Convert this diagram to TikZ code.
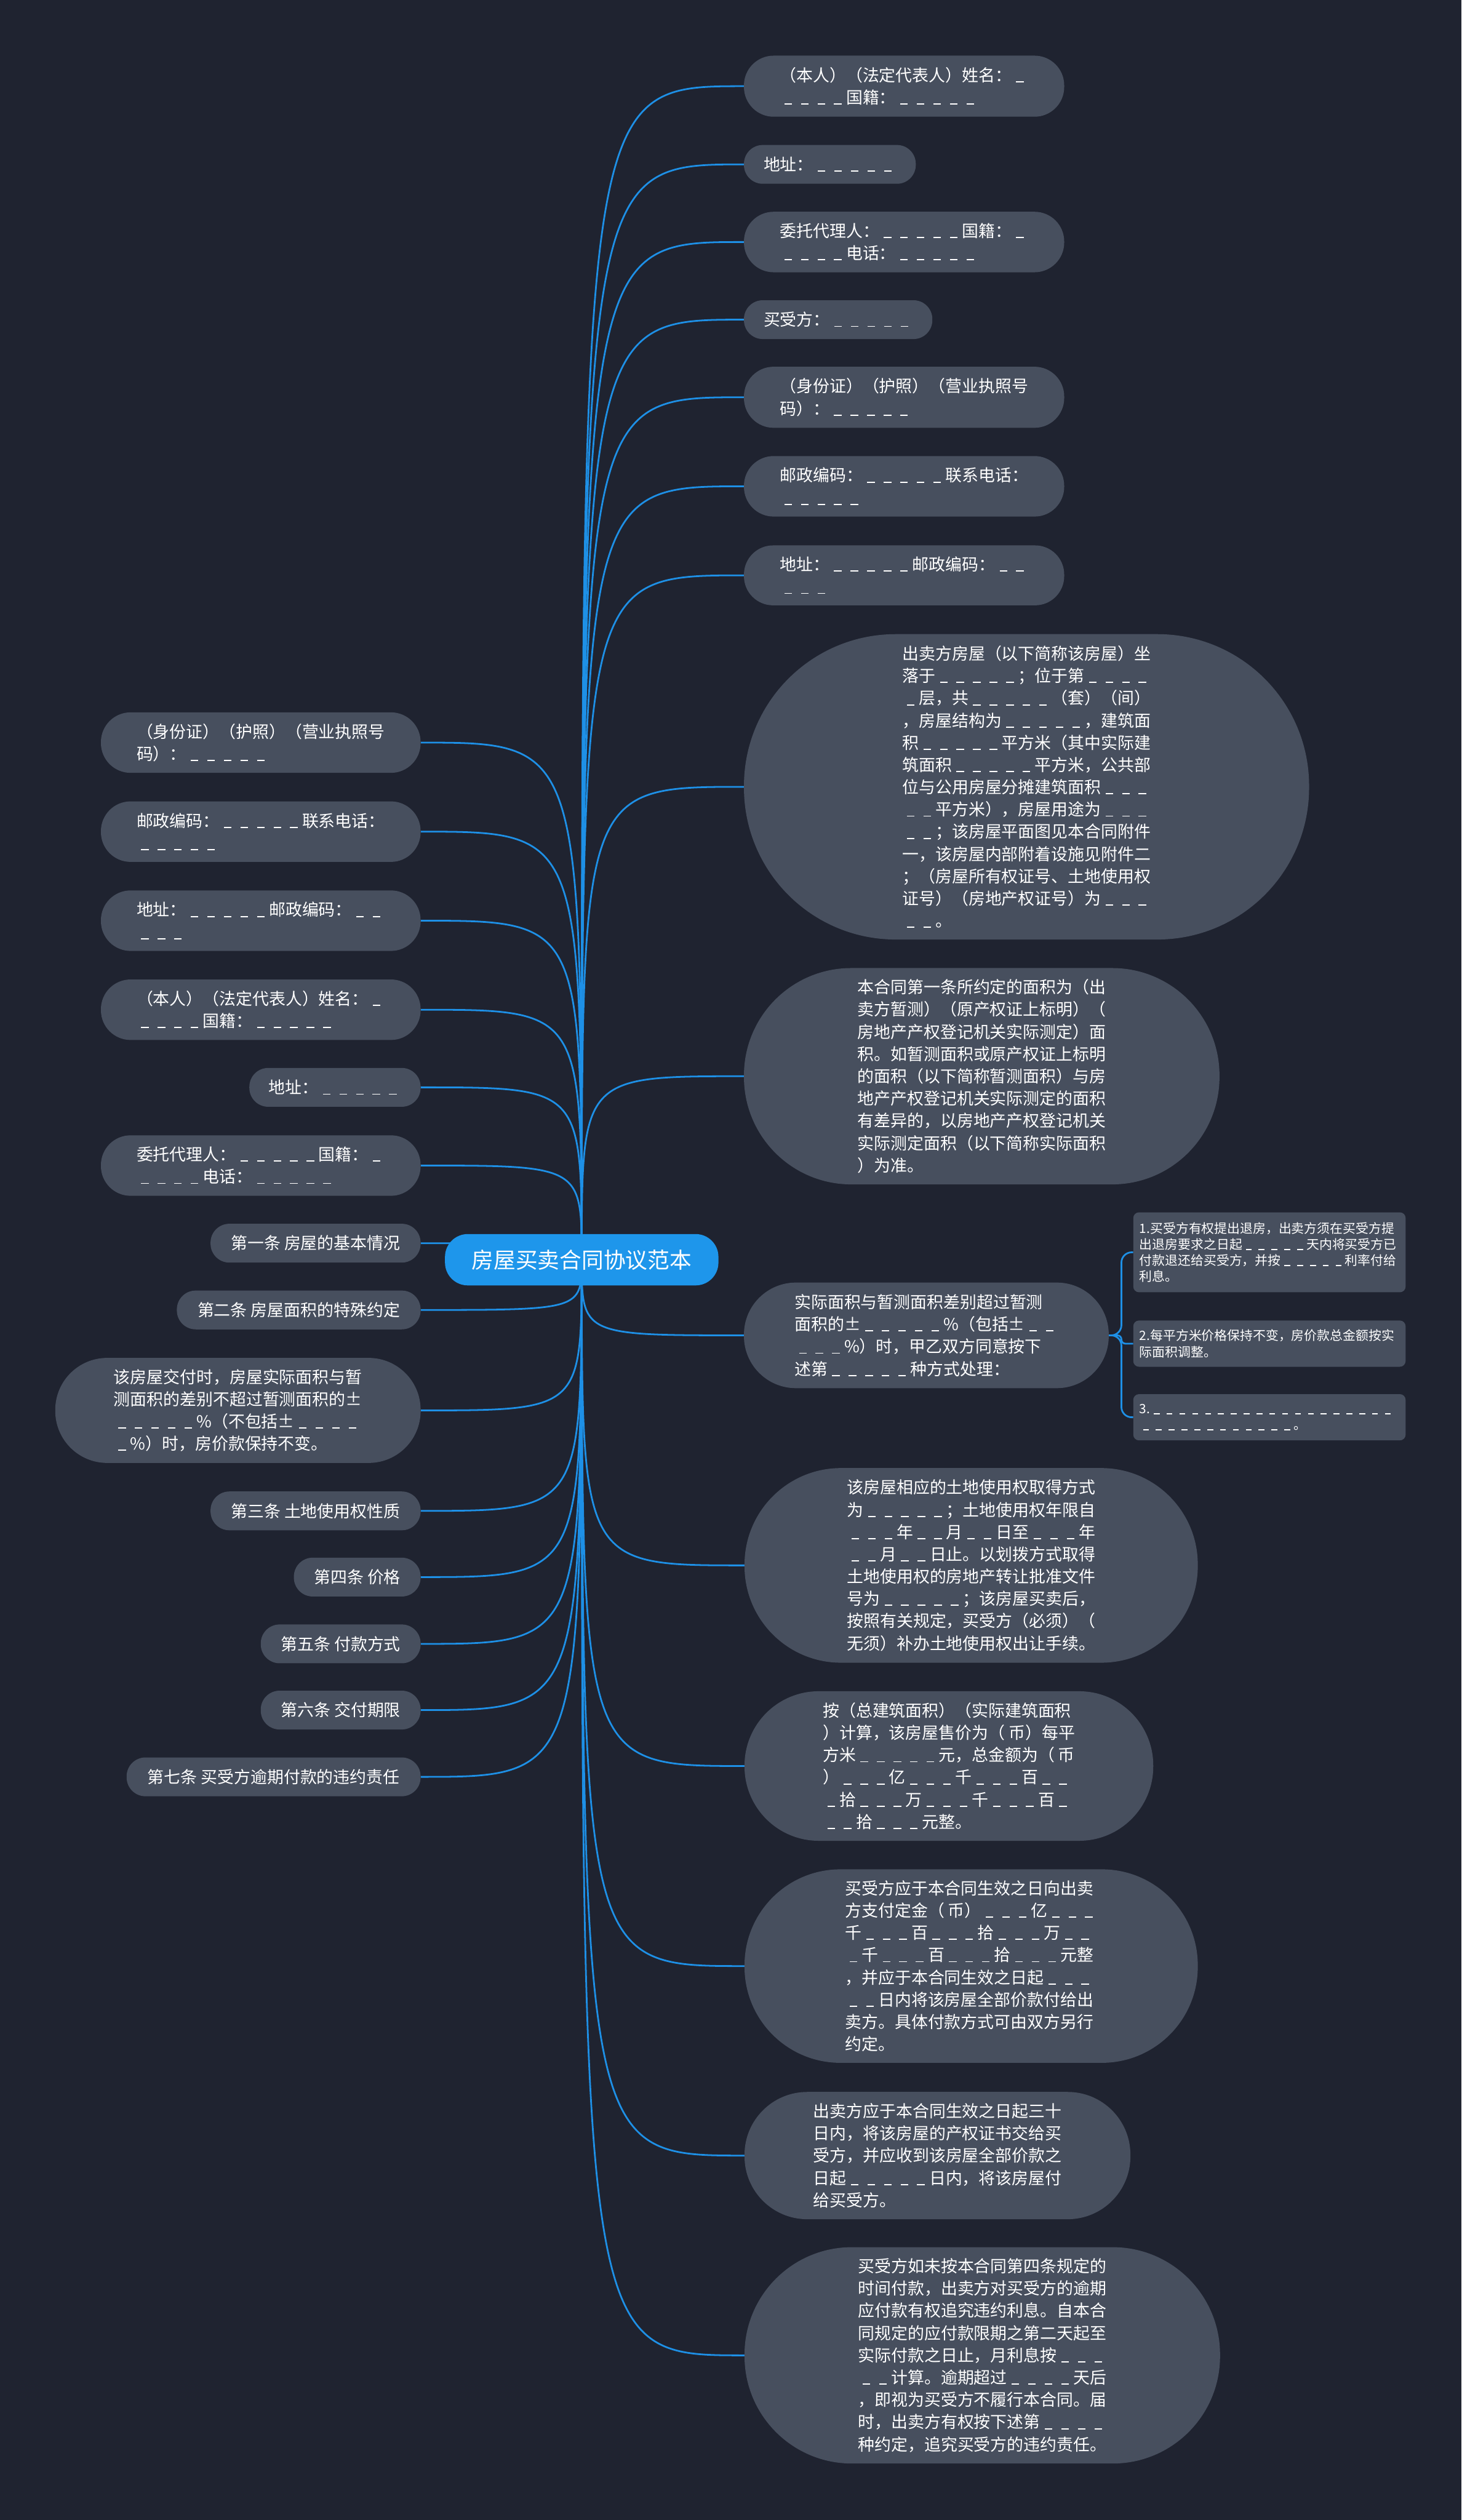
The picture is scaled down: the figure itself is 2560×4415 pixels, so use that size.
\documentclass[tikz,border=0pt]{standalone}
\usepackage{fontspec}
\setmainfont{Noto Sans CJK SC}
\definecolor{bgc}{RGB}{31,35,48}
\definecolor{nodec}{RGB}{71,79,94}
\definecolor{bluec}{RGB}{30,150,235}
\definecolor{linec}{RGB}{30,144,230}
\newcommand\blkone{\makebox[1em]{\rule[-0.06em]{0.46em}{0.07em}}}
\newcommand\blk[1]{\ifcase#1\or\blkone\or\blkone\blkone\or\blkone\blkone\blkone\or\blkone\blkone\blkone\blkone\or\blkone\blkone\blkone\blkone\blkone\fi}
\pgfdeclarelayer{bgl}
\pgfdeclarelayer{edl}
\pgfsetlayers{bgl,edl,main}
\tikzset{
  box/.style={fill=nodec, text=white, inner sep=0pt, align=left, font=\fontsize{29}{39}\selectfont},
  subbox/.style={fill=nodec, text=white, inner xsep=11pt, inner ysep=0pt, align=left, text width=455pt, rounded corners=10pt, font=\fontsize{22.5}{28.3}\selectfont},
  rootbox/.style={fill=bluec, text=white, inner sep=0pt, rounded corners=40pt, font=\fontsize{38.5}{46}\selectfont},
  edge/.style={draw=linec, line width=3pt},
}
\begin{document}
\begin{tikzpicture}[x=1pt,y=-1pt]
\begin{pgfonlayer}{bgl}
\fill[bgc] (0,0) rectangle (2560,4415);
\end{pgfonlayer}
\useasboundingbox (0,0) rectangle (2560,4415);

% root
\node[rootbox, minimum width=479, minimum height=90] (C) at (1019,2207) {房屋买卖合同协议范本};

% right column
\node[box, anchor=west, minimum width=561, minimum height=107, rounded corners=52] (R1) at (1303,151) {（本人）（法定代表人）姓名：\blk{1}\\\blk{4}国籍：\blk{5}};
\node[box, anchor=west, minimum width=301, minimum height=68, rounded corners=33] (R2) at (1303,288) {地址：\blk{5}};
\node[box, anchor=west, minimum width=561, minimum height=106, rounded corners=52] (R3) at (1303,424) {委托代理人：\blk{5}国籍：\blk{1}\\\blk{4}电话：\blk{5}};
\node[box, anchor=west, minimum width=330, minimum height=68, rounded corners=33] (R4) at (1303,560) {买受方：\blk{5}};
\node[box, anchor=west, minimum width=561, minimum height=107, rounded corners=52] (R5) at (1303,696) {（身份证）（护照）（营业执照号\\码）：\blk{5}};
\node[box, anchor=west, minimum width=561, minimum height=106, rounded corners=52] (R6) at (1303,852) {邮政编码：\blk{5}联系电话：\\\blk{5}};
\node[box, anchor=west, minimum width=561, minimum height=105, rounded corners=51] (R7) at (1303,1008) {地址：\blk{5}邮政编码：\blk{2}\\\blk{3}};

\node[box, anchor=west, minimum width=990, minimum height=535, rounded corners=266] (B1) at (1303,1378.5) {出卖方房屋（以下简称该房屋）坐\\落于\blk{5}；位于第\blk{4}\\\blk{1}层，共\blk{5}（套）（间）\\，房屋结构为\blk{5}，建筑面\\积\blk{5}平方米（其中实际建\\筑面积\blk{5}平方米，公共部\\位与公用房屋分摊建筑面积\blk{3}\\\blk{2}平方米），房屋用途为\blk{3}\\\blk{2}；该房屋平面图见本合同附件\\一，该房屋内部附着设施见附件二\\；（房屋所有权证号、土地使用权\\证号）（房地产权证号）为\blk{3}\\\blk{2}。};

\node[box, anchor=west, minimum width=833, minimum height=379, rounded corners=188] (B2) at (1303,1885.5) {本合同第一条所约定的面积为（出\\卖方暂测）（原产权证上标明）（\\房地产产权登记机关实际测定）面\\积。如暂测面积或原产权证上标明\\的面积（以下简称暂测面积）与房\\地产产权登记机关实际测定的面积\\有差异的，以房地产产权登记机关\\实际测定面积（以下简称实际面积\\）为准。};

\node[box, anchor=west, minimum width=639, minimum height=185, rounded corners=91] (B3) at (1303,2339.5) {实际面积与暂测面积差别超过暂测\\面积的±\blk{5}\%（包括±\blk{2}\\\blk{3}\%）时，甲乙双方同意按下\\述第\blk{5}种方式处理：};

\node[box, anchor=west, minimum width=794, minimum height=341, rounded corners=169] (B4) at (1304,2742.5) {该房屋相应的土地使用权取得方式\\为\blk{5}；土地使用权年限自\\\blk{3}年\blk{2}月\blk{2}日至\blk{3}年\\\blk{2}月\blk{2}日止。以划拨方式取得\\土地使用权的房地产转让批准文件\\号为\blk{5}；该房屋买卖后，\\按照有关规定，买受方（必须）（\\无须）补办土地使用权出让手续。};

\node[box, anchor=west, minimum width=716, minimum height=262, rounded corners=130] (B5) at (1304,3094) {按（总建筑面积）（实际建筑面积\\）计算，该房屋售价为（ 币）每平\\方米\blk{5}元，总金额为（ 币\\）\blk{3}亿\blk{3}千\blk{3}百\blk{2}\\\blk{1}拾\blk{3}万\blk{3}千\blk{3}百\blk{1}\\\blk{2}拾\blk{3}元整。};

\node[box, anchor=west, minimum width=794, minimum height=339, rounded corners=168] (B6) at (1304,3444.5) {买受方应于本合同生效之日向出卖\\方支付定金（ 币）\blk{3}亿\blk{3}\\千\blk{3}百\blk{3}拾\blk{3}万\blk{2}\\\blk{1}千\blk{3}百\blk{3}拾\blk{3}元整\\，并应于本合同生效之日起\blk{3}\\\blk{2}日内将该房屋全部价款付给出\\卖方。具体付款方式可由双方另行\\约定。};

\node[box, anchor=west, minimum width=676, minimum height=223, rounded corners=110] (B7) at (1304,3776.5) {出卖方应于本合同生效之日起三十\\日内，将该房屋的产权证书交给买\\受方，并应收到该房屋全部价款之\\日起\blk{5}日内，将该房屋付\\给买受方。};

\node[box, anchor=west, minimum width=833, minimum height=379, rounded corners=188] (B8) at (1304,4126.5) {买受方如未按本合同第四条规定的\\时间付款，出卖方对买受方的逾期\\应付款有权追究违约利息。自本合\\同规定的应付款限期之第二天起至\\实际付款之日止，月利息按\blk{3}\\\blk{2}计算。逾期超过\blk{4}天后\\，即视为买受方不履行本合同。届\\时，出卖方有权按下述第\blk{4}\\种约定，追究买受方的违约责任。};

% sub nodes of B3
\node[subbox, anchor=west, minimum height=140] (S1) at (1985,2194) {1.买受方有权提出退房，出卖方须在买受方提\\出退房要求之日起\blk{5}天内将买受方已\\付款退还给买受方，并按\blk{5}利率付给\\利息。};
\node[subbox, anchor=west, minimum height=81] (S2) at (1985,2354) {2.每平方米价格保持不变，房价款总金额按实\\际面积调整。};
\node[subbox, anchor=west, minimum height=81] (S3) at (1985,2483) {3.\blk{5}\blk{5}\blk{5}\blk{4}\\\blk{5}\blk{5}\blk{2}。};

% left column
\node[box, anchor=east, minimum width=560, minimum height=106, rounded corners=52] (LA) at (737,1301) {（身份证）（护照）（营业执照号\\码）：\blk{5}};
\node[box, anchor=east, minimum width=560, minimum height=106, rounded corners=52] (LB) at (737,1457) {邮政编码：\blk{5}联系电话：\\\blk{5}};
\node[box, anchor=east, minimum width=560, minimum height=106, rounded corners=52] (LC) at (737,1613) {地址：\blk{5}邮政编码：\blk{2}\\\blk{3}};
\node[box, anchor=east, minimum width=560, minimum height=106, rounded corners=52] (LD) at (737,1769) {（本人）（法定代表人）姓名：\blk{1}\\\blk{4}国籍：\blk{5}};
\node[box, anchor=east, minimum width=300, minimum height=68, rounded corners=33] (LE) at (737,1905) {地址：\blk{5}};
\node[box, anchor=east, minimum width=560, minimum height=106, rounded corners=52] (LF) at (737,2042) {委托代理人：\blk{5}国籍：\blk{1}\\\blk{4}电话：\blk{5}};

\node[box, anchor=east, minimum width=368, minimum height=68, rounded corners=33] (L1) at (737,2178) {第一条 房屋的基本情况};
\node[box, anchor=east, minimum width=427, minimum height=68, rounded corners=33] (L2) at (737,2295) {第二条 房屋面积的特殊约定};
\node[box, anchor=east, minimum width=640, minimum height=184, rounded corners=91] (L3) at (737,2471) {该房屋交付时，房屋实际面积与暂\\测面积的差别不超过暂测面积的±\\\blk{5}\%（不包括±\blk{4}\\\blk{1}\%）时，房价款保持不变。};
\node[box, anchor=east, minimum width=368, minimum height=68, rounded corners=33] (L4) at (737,2647) {第三条 土地使用权性质};
\node[box, anchor=east, minimum width=222, minimum height=68, rounded corners=33] (L5) at (737,2763) {第四条 价格};
\node[box, anchor=east, minimum width=280, minimum height=68, rounded corners=33] (L6) at (737,2880) {第五条 付款方式};
\node[box, anchor=east, minimum width=280, minimum height=68, rounded corners=33] (L7) at (737,2996) {第六条 交付期限};
\node[box, anchor=east, minimum width=515, minimum height=68, rounded corners=33] (L8) at (737,3113) {第七条 买受方逾期付款的违约责任};

% connectors
\begin{pgfonlayer}{edl}
\foreach \n in {R1,R2,R3,R4,R5,R6,R7,B1,B2,B3,B4,B5,B6,B7,B8}
  \draw[edge] (C.center) .. controls (C.center |- \n.west) .. (\n.west);
\foreach \n in {LA,LB,LC,LD,LE,LF,L1,L2,L3,L4,L5,L6,L7,L8}
  \draw[edge] (C.center) .. controls (C.center |- \n.east) .. (\n.east);
\coordinate (J) at ([xshift=22pt]B3.east);
\draw[edge, rounded corners=18pt] (B3.east) -- (J) |- (S1.west);
\draw[edge, rounded corners=7pt] (B3.east) -- (J) |- (S2.west);
\draw[edge, rounded corners=18pt] (B3.east) -- (J) |- (S3.west);
\end{pgfonlayer}
\end{tikzpicture}
\end{document}
